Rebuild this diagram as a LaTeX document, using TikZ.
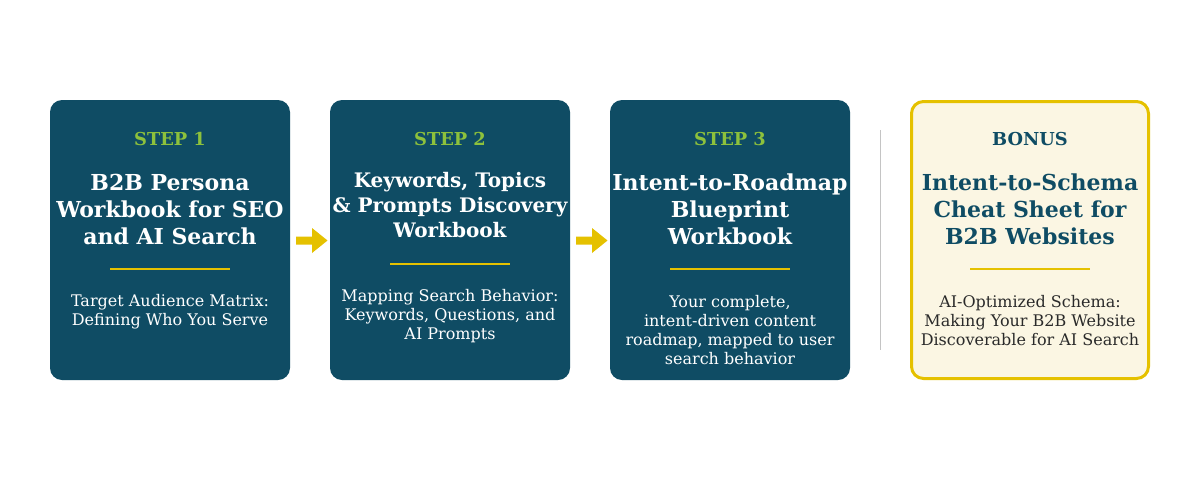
\documentclass[tikz,border=0pt]{standalone}
\usepackage{fontspec}
\setmainfont{DejaVu Serif}
\definecolor{boxteal}{HTML}{0F4C64}
\definecolor{accgold}{HTML}{E5C100}
\definecolor{stepgreen}{HTML}{8DC13C}
\definecolor{bonusbg}{HTML}{FBF6E3}
\definecolor{subgray}{HTML}{2A2A2A}
\definecolor{sepgray}{HTML}{C4C4C4}
\begin{document}
\begin{tikzpicture}[x=1pt,y=-1pt,
  card/.style={fill=boxteal, rounded corners=12pt},
  bonuscard/.style={fill=bonusbg, draw=accgold, line width=3pt, rounded corners=12pt},
  steplabel/.style={font=\fontsize{17.8}{20}\selectfont\bfseries, text=stepgreen, anchor=center},
  titletext/.style={font=\fontsize{22}{27}\selectfont\bfseries, text=white, align=center, anchor=center, inner sep=0pt},
  titlesmall/.style={font=\fontsize{20}{25}\selectfont\bfseries, text=white, align=center, anchor=center, inner sep=0pt},
  subtext/.style={font=\fontsize{16}{19}\selectfont, text=white, align=center, anchor=center, inner sep=0pt},
  rule/.style={draw=accgold, line width=2pt},
  flowarrow/.style={fill=accgold, draw=none}
]
\useasboundingbox (0,0) rectangle (1200,480);
\fill[white] (0,0) rectangle (1200,480);

% cards
\path[card] (50,100) rectangle (290,380);
\path[card] (330,100) rectangle (570,380);
\path[card] (610,100) rectangle (850,380);
\path[bonuscard] (911.5,101.5) rectangle (1148.5,378.5);

% step 1
\node[steplabel] (s1) at (170,139) {STEP 1};
\node[titletext] (t1) at (170,209) {B2B Persona\\Workbook for SEO\\and AI Search};
\draw[rule] (110,269) -- (230,269);
\node[subtext] (d1) at (170,311.5) {Target Audience Matrix:\\Defining Who You Serve};

% step 2
\node[steplabel] (s2) at (450,139) {STEP 2};
\node[titlesmall] (t2) at (450,205) {Keywords, Topics\\\& Prompts Discovery\\Workbook};
\draw[rule] (390,263.5) -- (510,263.5);
\node[subtext] (d2) at (450,316) {Mapping Search Behavior:\\Keywords, Questions, and\\AI Prompts};

% step 3
\node[steplabel] (s3) at (730,139) {STEP 3};
\node[titletext] (t3) at (730,209) {Intent-to-Roadmap\\Blueprint\\Workbook};
\draw[rule] (670,269) -- (790,269);
\node[subtext] (d3) at (730,330.5) {Your complete,\\intent-driven content\\roadmap, mapped to user\\search behavior};

% bonus
\node[steplabel, text=boxteal] (s4) at (1030,139) {BONUS};
\node[titletext, text=boxteal] (t4) at (1030,209) {Intent-to-Schema\\Cheat Sheet for\\B2B Websites};
\draw[rule] (970,269) -- (1090,269);
\node[subtext, text=subgray] (d4) at (1030,321) {AI-Optimized Schema:\\Making Your B2B Website\\Discoverable for AI Search};

% arrows
\fill[flowarrow] (296,236.5) -- (312,236.5) -- (312,228) -- (327.5,240.5) -- (312,253) -- (312,244.5) -- (296,244.5) -- cycle;
\fill[flowarrow] (576,236.5) -- (592,236.5) -- (592,228) -- (607.5,240.5) -- (592,253) -- (592,244.5) -- (576,244.5) -- cycle;

% separator
\draw[sepgray, line width=1pt] (880.5,130) -- (880.5,350);
\end{tikzpicture}
\end{document}
